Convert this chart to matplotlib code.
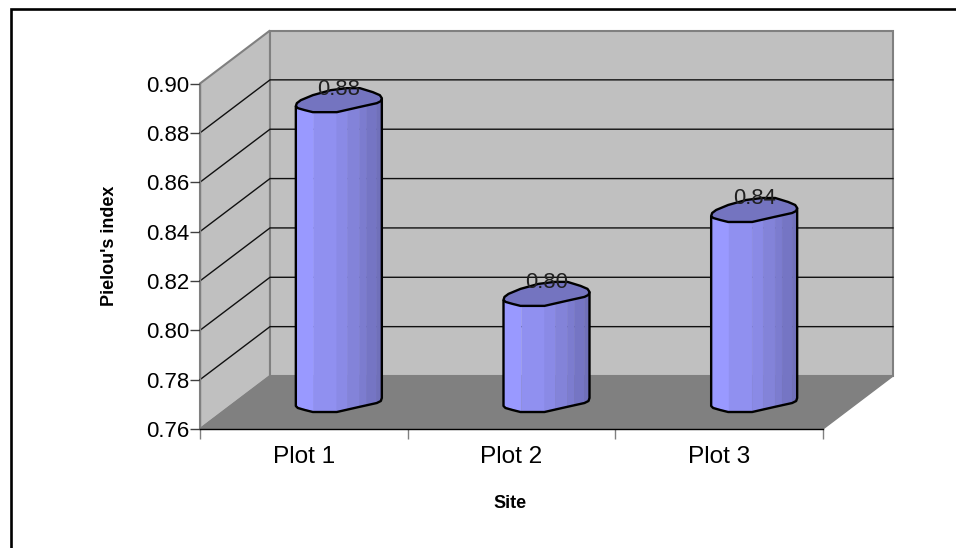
import numpy as np
import matplotlib
matplotlib.use('Agg')
import matplotlib.pyplot as plt
from matplotlib.lines import Line2D
from matplotlib.patches import Polygon

plt.rcParams['font.family'] = ['Liberation Sans', 'DejaVu Sans']

categories = ['Plot 1', 'Plot 2', 'Plot 3']
values = [0.8815, 0.803, 0.837]
value_labels = ['0.88', '0.80', '0.84']
y_ticks = [0.76, 0.78, 0.80, 0.82, 0.84, 0.86, 0.88, 0.90]

W, H = 956, 548
left, right, bottom, top = 200, 823, 429, 83.5
DX, DY = 70, 53   # depth of the 3d box, pixels

fig = plt.figure(figsize=(W / 100, H / 100), dpi=100)
fig.patch.set_facecolor('white')
ax = fig.add_axes([left / W, 1 - bottom / H, (right - left) / W, (bottom - top) / H])
ax.set_xlim(0, 3)
ax.set_ylim(0.76, 0.90)
ax.patch.set_visible(False)

px_x = 3 / (right - left)
px_y = 0.14 / (bottom - top)


def pt(x, y, ox=0, oy=0):
    # data position plus a pixel offset (oy upward)
    return (x + ox * px_x, y + oy * px_y)


wall = '#c0c0c0'
edge = '#808080'
ymin, ymax = 0.76, 0.90
# side wall, back wall, floor
ax.add_patch(Polygon([pt(0, ymin), pt(0, ymin, DX, DY), pt(0, ymax, DX, DY), pt(0, ymax)],
                     fc=wall, ec=edge, lw=1.5, clip_on=False, zorder=1))
ax.add_patch(Polygon([pt(0, ymin, DX, DY), pt(3, ymin, DX, DY), pt(3, ymax, DX, DY), pt(0, ymax, DX, DY)],
                     fc=wall, ec=edge, lw=1.5, clip_on=False, zorder=1))
ax.add_patch(Polygon([pt(0, ymin), pt(3, ymin), pt(3, ymin, DX, DY), pt(0, ymin, DX, DY)],
                     fc='#808080', ec=edge, lw=1, clip_on=False, zorder=1.5))

# gridlines on both walls
for t in y_ticks[1:-1]:
    ax.plot(*zip(pt(0, t), pt(0, t, DX, DY), pt(3, t, DX, DY)), color='#101010', lw=1,
            clip_on=False, zorder=2)

# cylinders: pixel offsets of the top outline, from the bar centre
lower_edge = [(-43, -4), (-41, -6), (-34, -8), (-26, -10), (-2, -10), (20, -5), (38, -1), (42, 1), (43, 4)]
upper_edge = [(41, 7), (34, 10), (21, 14), (8, 14), (-8, 12), (-26, 7), (-38, 2), (-42, -1)]
bands = [(-43, -25, '#9999ff'), (-25, -2, '#9090f0'), (-2, 9, '#8a8ae6'), (9, 21, '#8383d9'),
         (21, 28, '#7c7ccf'), (28, 38, '#7575c4'), (38, 43, '#7070ba')]
centres = [0.5 + 35 * px_x + i for i in range(3)]

for c, v, lab in zip(centres, values, value_labels):
    b = ymin + 27 * px_y
    t = v + 27 * px_y
    # shaded strips
    for x0, x1, col in bands:
        xs = np.array([x0, x1])
        edge_y = np.interp(xs, [p[0] for p in lower_edge], [p[1] for p in lower_edge])
        ax.add_patch(Polygon([pt(c, b, x0, edge_y[0]), pt(c, b, x1, edge_y[1]),
                              pt(c, t, x1, edge_y[1]), pt(c, t, x0, edge_y[0])],
                             fc=col, ec=col, lw=0.3, clip_on=False, zorder=3))
    # outline of body
    outline = [pt(c, t, *lower_edge[0])] + [pt(c, b, *p) for p in lower_edge] + [pt(c, t, *lower_edge[-1])]
    ax.add_patch(Polygon(outline, closed=False, fill=False, ec='black', lw=1.7,
                         joinstyle='round', clip_on=False, zorder=4))
    # top face
    ax.add_patch(Polygon([pt(c, t, *p) for p in lower_edge + upper_edge], fc='#7474c0', ec='black',
                         lw=1.7, joinstyle='round', clip_on=False, zorder=5))
    ax.text(*pt(c, t, 0, 13), lab, ha='center', va='center', fontsize=15.8, color='#202020', zorder=6)

for s in ('top', 'right'):
    ax.spines[s].set_visible(False)
for s in ('left', 'bottom'):
    ax.spines[s].set_color('black')
    ax.spines[s].set_linewidth(1)
    ax.spines[s].set_zorder(2.5)

ax.spines['left'].set_color(edge)
ax.set_yticks(y_ticks)
ax.set_yticklabels([f'{t:.2f}' for t in y_ticks], fontsize=16)
ax.set_xticks([0, 1, 2, 3])
ax.set_xticklabels([])
ax.tick_params(axis='y', length=7, width=1, pad=1, color='#404040')
ax.tick_params(axis='x', length=7, width=1, color='#808080')
for i, name in enumerate(categories):
    ax.annotate(name, (i + 0.5, ymin), xytext=(0, -20.5), textcoords='offset points',
                ha='center', va='center', fontsize=17.6)

fig.text(110 / W, 1 - 246 / H, "Pielou's index", rotation=90, ha='center', va='center',
         fontsize=13, fontweight='bold')
fig.text(510 / W, 1 - 503 / H, 'Site', ha='center', va='center', fontsize=13, fontweight='bold')

# chart border, only the top and left sides fall inside the picture
fig.add_artist(Line2D([10.5 / W, 10.5 / W, 1], [0, 1 - 9 / H, 1 - 9 / H], transform=fig.transFigure,
                      color='black', lw=1.9, solid_joinstyle='miter'))

fig.savefig('out.png', dpi=100)
